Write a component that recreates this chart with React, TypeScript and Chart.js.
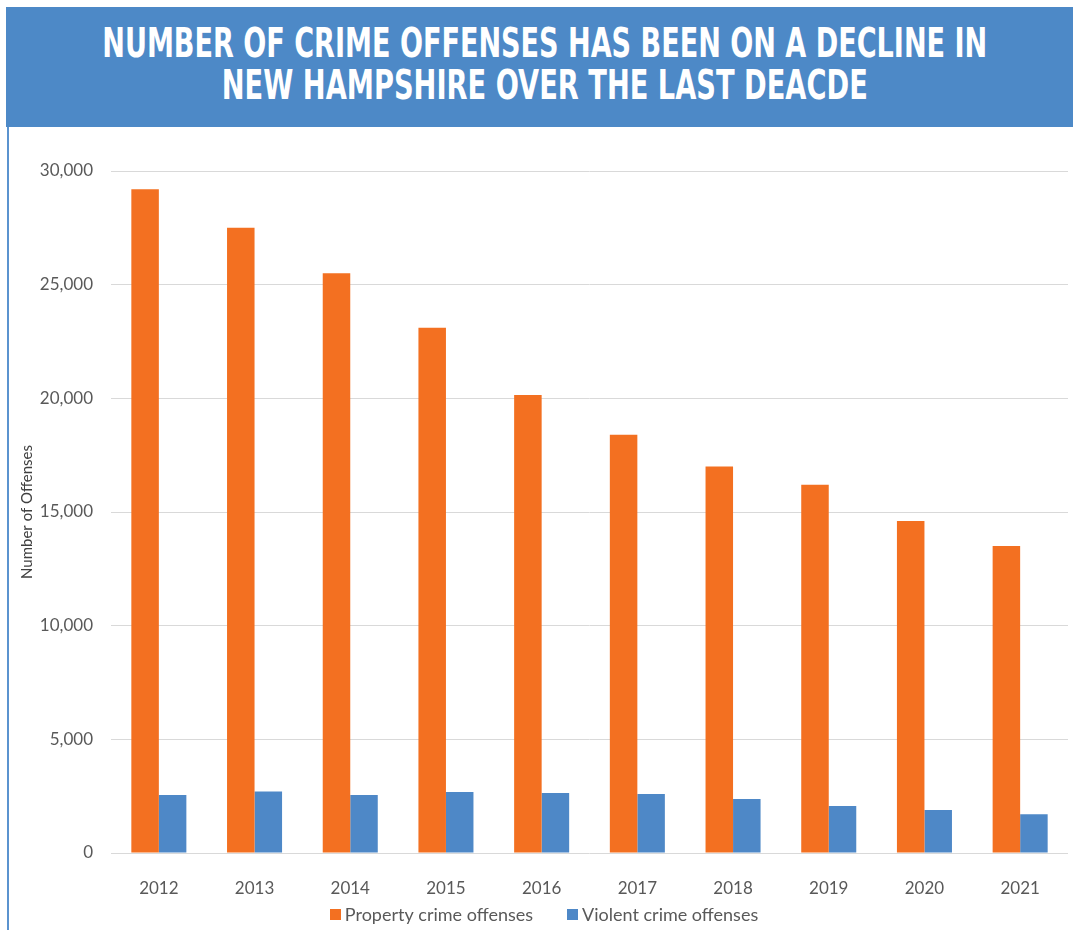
import React, { useEffect, useLayoutEffect, useRef } from "react";
import { Chart, registerables } from "chart.js";

Chart.register(...registerables);

const titleLines = [
  "NUMBER OF CRIME OFFENSES HAS BEEN ON A DECLINE IN",
  "NEW HAMPSHIRE OVER THE LAST DEACDE",
];
const years = ["2012", "2013", "2014", "2015", "2016", "2017", "2018", "2019", "2020", "2021"];
const propertyCrime = [29200, 27500, 25500, 23100, 20150, 18400, 17000, 16200, 14600, 13500];
const violentCrime = [2550, 2700, 2550, 2680, 2640, 2600, 2370, 2070, 1890, 1700];
const seriesNames = ["Property crime offenses", "Violent crime offenses"];
const yTitle = "Number of Offenses";

const ORANGE = "#F37021";
const BLUE = "#4E88C7";
const BANNER = "#4D89C7";
const FONT = "Lato, 'Open Sans', sans-serif";

const bottomLegend = {
  id: "bottomLegend",
  afterDraw(chart: any) {
    const ctx = chart.ctx;
    const box = 11;
    const gap = 4;
    const itemGap = 34;
    ctx.save();
    ctx.font = `18px ${FONT}`;
    ctx.textBaseline = "middle";
    ctx.textAlign = "left";
    const items = chart.data.datasets.map((d: any) => ({
      text: d.label,
      color: d.backgroundColor,
      w: ctx.measureText(d.label).width,
    }));
    const total = items.reduce((s: number, it: any, i: number) => s + box + gap + it.w + (i > 0 ? itemGap : 0), 0);
    let x = 534 - total / 2;
    const y = chart.height - 16;
    items.forEach((it: any, i: number) => {
      if (i > 0) x += itemGap;
      ctx.fillStyle = it.color;
      ctx.fillRect(Math.round(x), Math.round(y - box / 2), box, box);
      x += box + gap;
      ctx.fillStyle = "#595959";
      ctx.fillText(it.text, x, y + 1);
      x += it.w;
    });
    ctx.restore();
  },
};

export default function App() {
  const canvasRef = useRef<HTMLCanvasElement | null>(null);
  const lineRefs = useRef<(HTMLSpanElement | null)[]>([]);
  const targetWidths = [885, 646];

  useLayoutEffect(() => {
    lineRefs.current.forEach((el, i) => {
      if (!el) return;
      el.style.transform = "none";
      const w = el.getBoundingClientRect().width;
      if (w > 0) el.style.transform = `scaleX(${targetWidths[i] / w})`;
    });
  }, []);

  useEffect(() => {
    if (!canvasRef.current) return;
    const chart = new Chart(canvasRef.current, {
      type: "bar",
      data: {
        labels: years,
        datasets: [
          { label: seriesNames[0], data: propertyCrime, backgroundColor: ORANGE, barPercentage: 1, categoryPercentage: 0.575 },
          { label: seriesNames[1], data: violentCrime, backgroundColor: BLUE, barPercentage: 1, categoryPercentage: 0.575 },
        ],
      },
      options: {
        responsive: false,
        animation: false,
        layout: { padding: { left: 0, right: 5, top: 44, bottom: 30 } },
        plugins: {
          tooltip: { enabled: false },
          legend: { display: false },
        },
        scales: {
          x: {
            grid: { display: false },
            border: { display: false },
            ticks: { color: "#595959", font: { family: FONT, size: 17 }, padding: 17 },
            afterFit: (scale: any) => {
              scale.height = 47;
            },
          },
          y: {
            min: 0,
            max: 30000,
            border: { display: false },
            grid: { color: "#D9D9D9", lineWidth: 1, drawTicks: false },
            ticks: {
              stepSize: 5000,
              color: "#595959",
              font: { family: FONT, size: 17 },
              padding: 18,
              callback: (v: any) => Number(v).toLocaleString("en-US"),
            },
            title: {
              display: true,
              text: yTitle,
              color: "#404040",
              font: { family: FONT, size: 15 },
              padding: { top: 8, bottom: 0 },
            },
            afterFit: (scale: any) => {
              scale.width = 101;
            },
          },
        },
      },
      plugins: [bottomLegend],
    });
    return () => chart.destroy();
  }, []);

  return (
    <div style={{ position: "absolute", left: 0, top: 0, width: 1073, height: 930, overflow: "hidden", background: "#fff" }}>
      <div
        style={{
          position: "absolute",
          left: 6,
          top: 7,
          width: 1067,
          height: 120,
          background: BANNER,
        }}
      >
        {titleLines.map((t, i) => (
          <div
            key={i}
            style={{
              position: "absolute",
              left: 0,
              width: 1078,
              top: 14 + i * 42,
              display: "flex",
              justifyContent: "center",
              lineHeight: "44px",
              height: 44,
              whiteSpace: "nowrap",
            }}
          >
            <span
              ref={(el) => {
                lineRefs.current[i] = el;
              }}
              style={{
                display: "inline-block",
                flex: "none",
                color: "#fff",
                fontFamily: "'DejaVu Sans Condensed', 'DejaVu Sans', sans-serif",
                fontWeight: 700,
                fontSize: 41,
                transformOrigin: "center",
              }}
            >
              {t}
            </span>
          </div>
        ))}
      </div>
      <div style={{ position: "absolute", left: 7, top: 127, width: 2, height: 803, background: "#5B93CF" }} />
      <canvas
        ref={canvasRef}
        width={1063}
        height={803}
        style={{ position: "absolute", left: 10, top: 127, width: 1063, height: 803 }}
      />
    </div>
  );
}
